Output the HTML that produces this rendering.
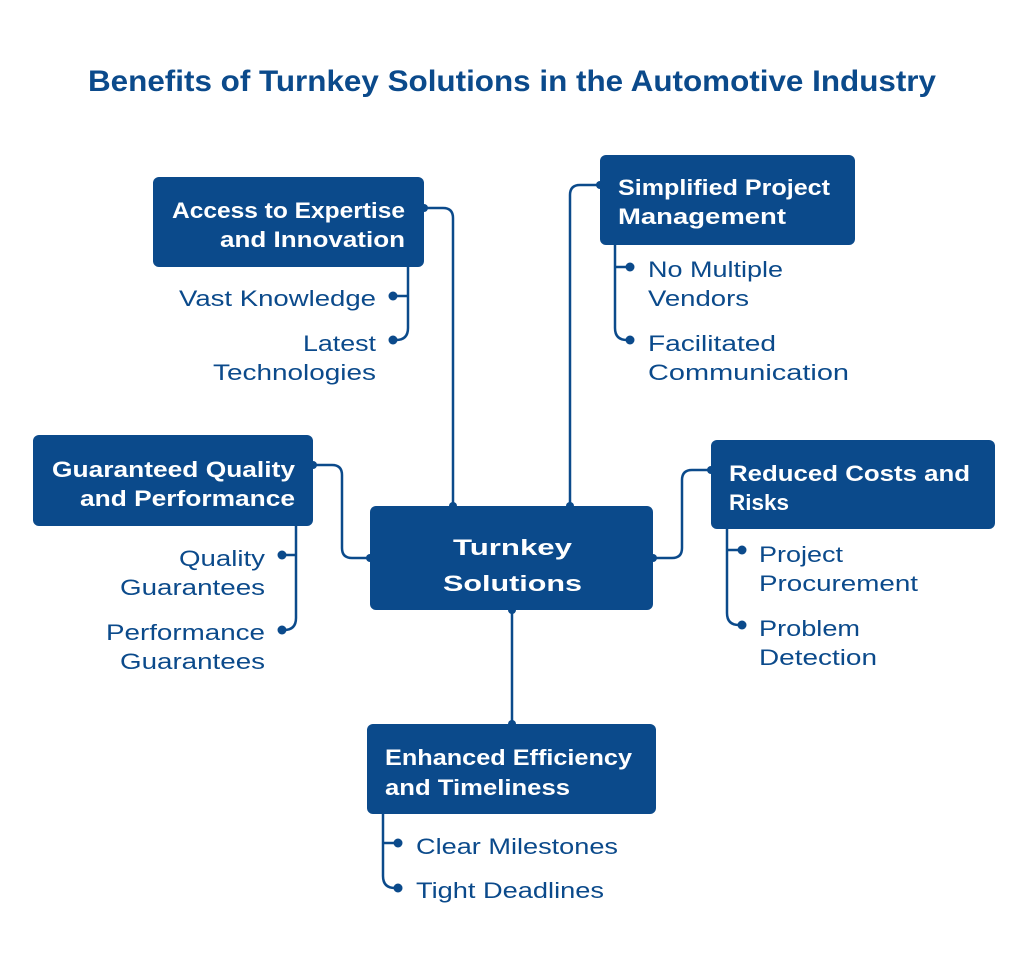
<!DOCTYPE html>
<html><head><meta charset="utf-8"><style>
html,body{margin:0;padding:0;background:#fff;}
svg{display:block;}
.b{font-family:"Liberation Sans",sans-serif;font-weight:bold;fill:#fff;font-size:22px;}
.s{font-family:"Liberation Sans",sans-serif;fill:#0b4a8b;font-size:22px;}
</style></head><body>
<svg width="1024" height="962" viewBox="0 0 1024 962" xmlns="http://www.w3.org/2000/svg">
<rect width="1024" height="962" fill="#fff"/>
<text x="88" y="91" textLength="848" lengthAdjust="spacingAndGlyphs" font-family="Liberation Sans, sans-serif" font-weight="bold" font-size="30" fill="#0b4a8b">Benefits of Turnkey Solutions in the Automotive Industry</text>
<g fill="none" stroke="#0b4a8b" stroke-width="2.5">
<path d="M424 208 H443 Q453 208 453 218 V506"/>
<path d="M600 185 H580 Q570 185 570 195 V506"/>
<path d="M313 465 H332 Q342 465 342 475 V548 Q342 558 352 558 H370"/>
<path d="M711 470 H692 Q682 470 682 480 V548 Q682 558 672 558 H653"/>
<path d="M512 610 V724"/>
<path d="M408 267 V328 Q408 340 396 340"/><path d="M393 296 H408"/>
<path d="M615 245 V328 Q615 340 627 340"/><path d="M615 267 H630"/>
<path d="M296 526 V618 Q296 630 284 630"/><path d="M282 555 H296"/>
<path d="M727 529 V613 Q727 625 739 625"/><path d="M727 550 H742"/>
<path d="M383 814 V876 Q383 888 395 888"/><path d="M383 843 H398"/>
</g>
<g fill="#0b4a8b">
<circle cx="453" cy="506" r="4"/><circle cx="570" cy="506" r="4"/><circle cx="512" cy="610" r="4"/><circle cx="512" cy="724" r="4"/>
<circle cx="424" cy="208" r="4"/><circle cx="600" cy="185" r="4"/><circle cx="313" cy="465" r="4"/><circle cx="711" cy="470" r="4"/><circle cx="370" cy="558" r="4"/><circle cx="653" cy="558" r="4"/>
<circle cx="393" cy="296" r="4.5"/><circle cx="393" cy="340" r="4.5"/>
<circle cx="630" cy="267" r="4.5"/><circle cx="630" cy="340" r="4.5"/>
<circle cx="282" cy="555" r="4.5"/><circle cx="282" cy="630" r="4.5"/>
<circle cx="742" cy="550" r="4.5"/><circle cx="742" cy="625" r="4.5"/>
<circle cx="398" cy="843" r="4.5"/><circle cx="398" cy="888" r="4.5"/>
<rect x="153" y="177" width="271" height="90" rx="6"/>
<rect x="600" y="155" width="255" height="90" rx="6"/>
<rect x="33" y="435" width="280" height="91" rx="6"/>
<rect x="711" y="440" width="284" height="89" rx="6"/>
<rect x="370" y="506" width="283" height="104" rx="6"/>
<rect x="367" y="724" width="289" height="90" rx="6"/>
</g>
<text class="b" x="172" y="218" textLength="233" lengthAdjust="spacingAndGlyphs">Access to Expertise</text>
<text class="b" x="220" y="247" textLength="185" lengthAdjust="spacingAndGlyphs">and Innovation</text>
<text class="b" x="618" y="195" textLength="212" lengthAdjust="spacingAndGlyphs">Simplified Project</text>
<text class="b" x="618" y="224" textLength="168" lengthAdjust="spacingAndGlyphs">Management</text>
<text class="b" x="52" y="477" textLength="243" lengthAdjust="spacingAndGlyphs">Guaranteed Quality</text>
<text class="b" x="80" y="506" textLength="215" lengthAdjust="spacingAndGlyphs">and Performance</text>
<text class="b" x="729" y="481" textLength="241" lengthAdjust="spacingAndGlyphs">Reduced Costs and</text>
<text class="b" x="729" y="510" textLength="60" lengthAdjust="spacingAndGlyphs">Risks</text>
<text class="b" x="453" y="555" font-size="30" font-weight="normal" textLength="119" lengthAdjust="spacingAndGlyphs">Turnkey</text>
<text class="b" x="443" y="591" font-size="30" font-weight="normal" textLength="139" lengthAdjust="spacingAndGlyphs">Solutions</text>
<text class="b" x="385" y="765" textLength="247" lengthAdjust="spacingAndGlyphs">Enhanced Efficiency</text>
<text class="b" x="385" y="795" textLength="185" lengthAdjust="spacingAndGlyphs">and Timeliness</text>
<text class="s" x="179" y="306" textLength="197" lengthAdjust="spacingAndGlyphs">Vast Knowledge</text>
<text class="s" x="303" y="351" textLength="73" lengthAdjust="spacingAndGlyphs">Latest</text>
<text class="s" x="213" y="380" textLength="163" lengthAdjust="spacingAndGlyphs">Technologies</text>
<text class="s" x="648" y="277" textLength="135" lengthAdjust="spacingAndGlyphs">No Multiple</text>
<text class="s" x="648" y="306" textLength="101" lengthAdjust="spacingAndGlyphs">Vendors</text>
<text class="s" x="648" y="351" textLength="128" lengthAdjust="spacingAndGlyphs">Facilitated</text>
<text class="s" x="648" y="380" textLength="201" lengthAdjust="spacingAndGlyphs">Communication</text>
<text class="s" x="179" y="566" textLength="86" lengthAdjust="spacingAndGlyphs">Quality</text>
<text class="s" x="120" y="595" textLength="145" lengthAdjust="spacingAndGlyphs">Guarantees</text>
<text class="s" x="106" y="640" textLength="159" lengthAdjust="spacingAndGlyphs">Performance</text>
<text class="s" x="120" y="669" textLength="145" lengthAdjust="spacingAndGlyphs">Guarantees</text>
<text class="s" x="759" y="562" textLength="84" lengthAdjust="spacingAndGlyphs">Project</text>
<text class="s" x="759" y="591" textLength="159" lengthAdjust="spacingAndGlyphs">Procurement</text>
<text class="s" x="759" y="636" textLength="101" lengthAdjust="spacingAndGlyphs">Problem</text>
<text class="s" x="759" y="665" textLength="118" lengthAdjust="spacingAndGlyphs">Detection</text>
<text class="s" x="416" y="854" textLength="202" lengthAdjust="spacingAndGlyphs">Clear Milestones</text>
<text class="s" x="416" y="898" textLength="188" lengthAdjust="spacingAndGlyphs">Tight Deadlines</text>
</svg>
</body></html>
